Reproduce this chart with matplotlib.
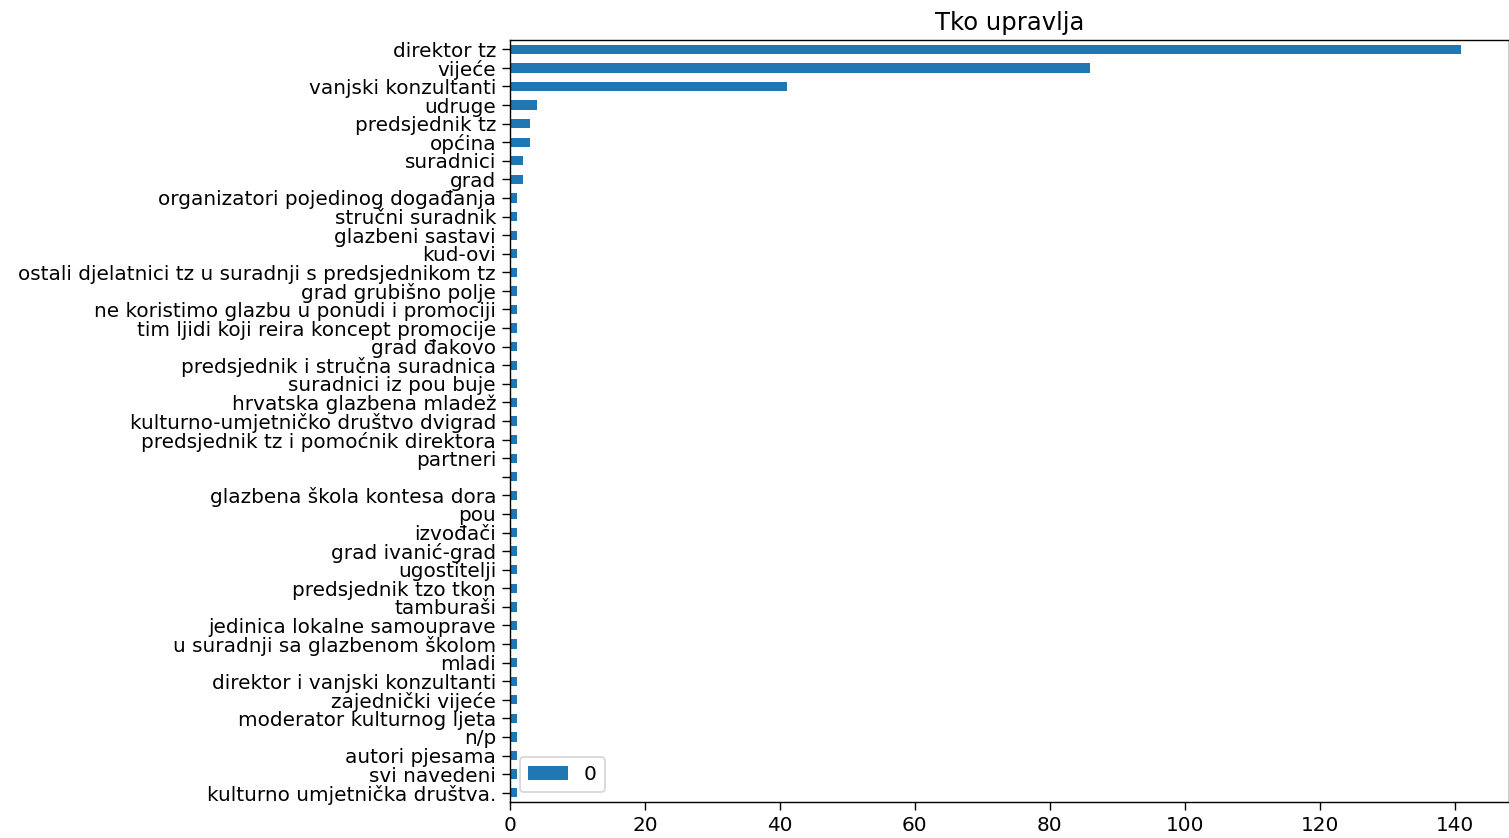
import pandas as pd
import matplotlib
matplotlib.use('Agg')
import matplotlib.pyplot as plt

# kategorije (odozgo prema dolje) i broj odgovora
labels = ['direktor tz', 'vijeće', 'vanjski konzultanti', 'udruge', 'predsjednik tz',
          'općina', 'suradnici', 'grad', 'organizatori pojedinog događanja',
          'stručni suradnik', 'glazbeni sastavi', 'kud-ovi',
          'ostali djelatnici tz u suradnji s predsjednikom tz', 'grad grubišno polje',
          'ne koristimo glazbu u ponudi i promociji', 'tim ljidi koji reira koncept promocije',
          'grad đakovo', 'predsjednik i stručna suradnica', 'suradnici iz pou buje',
          'hrvatska glazbena mladež', 'kulturno-umjetničko društvo dvigrad',
          'predsjednik tz i pomoćnik direktora', 'partneri', '',
          'glazbena škola kontesa dora', 'pou', 'izvođači', 'grad ivanić-grad',
          'ugostitelji', 'predsjednik tzo tkon', 'tamburaši', 'jedinica lokalne samouprave',
          'u suradnji sa glazbenom školom', 'mladi', 'direktor i vanjski konzultanti',
          'zajednički vijeće', 'moderator kulturnog ljeta', 'n/p', 'autori pjesama',
          'svi navedeni', 'kulturno umjetnička društva.']
counts = [141, 86, 41, 4, 3, 3, 2, 2] + [1] * 33

plt.rcParams['font.size'] = 11.5
plt.rcParams['axes.titlesize'] = 14
plt.rcParams['xtick.major.size'] = 4.5
plt.rcParams['ytick.major.size'] = 4.5

# barh crta odozdo prema gore, pa okrenemo redoslijed
df = pd.DataFrame({0: counts[::-1]}, index=labels[::-1])

fig = plt.figure(figsize=(1509 / 125, 838 / 125), dpi=125)
ax = fig.add_axes([510 / 1509, 1 - 802 / 838, 1 - 510 / 1509, (802 - 40) / 838])
df.plot.barh(ax=ax)
ax.set_title('Tko upravlja')
ax.legend(loc='lower left')

fig.savefig('out.png', dpi=125)
